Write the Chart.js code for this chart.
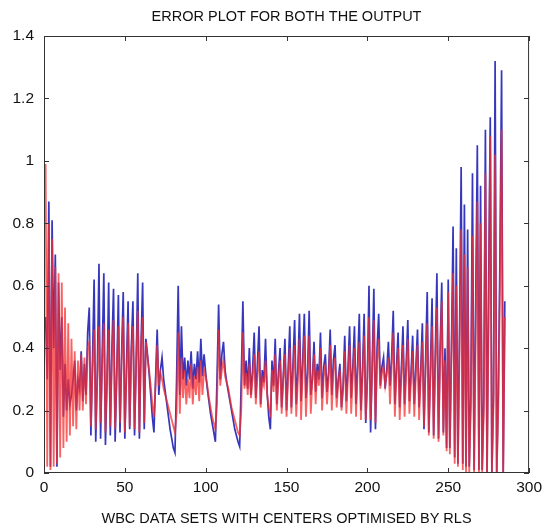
<!DOCTYPE html>
<html>
<head>
<meta charset="utf-8">
<script src="https://cdn.jsdelivr.net/npm/chart.js@4.4.1/dist/chart.umd.min.js"></script>
<style>
  html, body { margin: 0; padding: 0; background: #fff; }
  #wrap { width: 547px; height: 529px; }
</style>
</head>
<body>
<div id="wrap"><canvas id="myChart" width="547" height="529"></canvas></div>
<script>
const chartTitle = 'ERROR PLOT FOR BOTH THE OUTPUT';
const xAxisTitle = 'WBC DATA SETS WITH CENTERS OPTIMISED BY RLS';

const xTicks = [0, 50, 100, 150, 200, 250, 300];
const yTicks = [0, 0.2, 0.4, 0.6, 0.8, 1, 1.2, 1.4];

// error of output 1 (blue), one value per data set
const blueErr = [
  .50,.30,.87,.02,.81,.40,.70,.02,.61,.33,.50,.18,.35,.20,.30,.22,.25,.30,.36,.20,.30,.27,.39,.23,.35,.25,.45,
  .53,.12,.36,.62,.10,.33,.67,.11,.38,.64,.09,.30,.61,.12,.40,.59,.10,.32,.57,.13,.38,.58,.11,.34,.55,.14,.40,.55,.12,.35,.64,.11,.41,.61,.14,.43,
  .38,.32,.25,.18,.13,.30,.46,.25,.33,.37,.30,.26,.22,.18,.14,.11,.08,.065,.30,.60,.25,.47,.30,.37,.28,.36,.30,.39,.27,.35,.30,.39,.29,.43,.31,.38,.32,
  .27,.23,.19,.16,.13,.10,.30,.54,.30,.38,.42,.33,.29,.26,.23,.20,.17,.14,.12,.10,.085,.30,.55,.28,.36,.27,.40,.25,.33,.45,.24,.35,.47,.22,.33,.29,.43,.26,.18,.14,.36,.28,.43,
  .22,.32,.40,.21,.31,.43,.20,.33,.47,.21,.35,.49,.22,.33,.51,.23,.36,.51,.24,.32,.52,.25,.30,.42,.26,.35,.30,.45,.24,.34,.38,.26,.32,.46,.25,.36,.41,.24,.30,.35,.21,.28,.44,.23,.33,.47,.24,.34,.47,.22,.35,.51,.20,.33,.51,.16,.31,.60,.13,.35,.59,.14,.40,.51,
  .28,.34,.37,.27,.33,.42,.28,.37,.52,.22,.34,.45,.21,.33,.47,.22,.35,.49,.23,.32,.44,.22,.34,.46,.21,.33,.48,.14,.36,.58,.13,.34,.56,.12,.38,.64,.11,.40,.61,.13,.40,.08,
  .62,.08,.40,.79,.05,.72,.03,.45,.98,.03,.86,.02,.78,.02,.25,.96,.01,.55,1.05,.01,.92,.01,.24,1.10,.00,.60,1.14,.00,.25,1.32,.00,.26,.70,1.29,.00,.55
];

// error of output 2 (red)
const redErr = [
  .99,.02,.80,.01,.75,.02,.66,.03,.64,.05,.61,.08,.53,.10,.48,.12,.43,.15,.39,.14,.36,.20,.38,.20,.37,.22,.40,
  .42,.15,.33,.46,.14,.30,.47,.16,.35,.48,.13,.32,.46,.15,.37,.49,.14,.33,.47,.16,.36,.50,.13,.31,.48,.15,.38,.47,.14,.36,.52,.13,.40,.50,.16,.42,
  .37,.33,.28,.22,.18,.28,.41,.28,.32,.30,.27,.25,.23,.21,.19,.17,.15,.13,.19,.45,.19,.37,.24,.33,.22,.30,.24,.35,.22,.31,.25,.34,.23,.36,.25,.33,.31,
  .28,.24,.21,.18,.16,.14,.22,.46,.28,.33,.36,.31,.29,.27,.24,.21,.19,.17,.15,.13,.12,.20,.45,.27,.32,.25,.35,.24,.30,.38,.22,.31,.39,.21,.30,.28,.36,.25,.21,.19,.33,.26,.38,
  .20,.30,.36,.19,.30,.38,.18,.31,.40,.19,.32,.41,.18,.30,.43,.17,.33,.44,.18,.30,.44,.19,.30,.38,.22,.33,.28,.40,.20,.31,.35,.22,.30,.41,.20,.33,.37,.21,.29,.33,.20,.27,.39,.19,.31,.41,.19,.32,.40,.18,.33,.42,.17,.31,.44,.17,.30,.50,.17,.33,.49,.16,.36,.43,
  .27,.32,.34,.28,.32,.37,.22,.34,.45,.18,.32,.40,.17,.31,.41,.18,.32,.43,.19,.30,.39,.18,.32,.41,.17,.31,.42,.15,.33,.48,.12,.31,.47,.11,.35,.53,.10,.37,.55,.12,.36,.07,
  .58,.06,.38,.64,.03,.60,.02,.40,.78,.01,.70,.00,.66,.00,.22,.76,.00,.45,.87,.00,.80,.00,.20,.96,.00,.50,1.08,.00,.22,1.02,.00,.22,.60,1.10,.00,.50
];

const setNo = blueErr.map((v, i) => i + 1);
const toPoints = vals => vals.map((v, i) => ({ x: setNo[i], y: v }));

const tickFont = { family: '"Liberation Sans Narrow", "Liberation Sans", Arial, sans-serif', size: 15.5 };
const textFont = { family: '"Liberation Sans", Arial, sans-serif', size: 14.5 };

// matlab style box, inward ticks and title
const boxPlugin = {
  id: 'box',
  afterDraw(chart) {
    const { ctx, chartArea: a, scales } = chart;
    ctx.save();
    ctx.strokeStyle = '#333';
    ctx.lineWidth = 1;
    ctx.strokeRect(a.left + 0.5, a.top + 0.5, a.right - a.left - 1, a.bottom - a.top - 1);
    ctx.beginPath();
    xTicks.forEach(v => {
      const px = Math.round(scales.x.getPixelForValue(v)) + 0.5;
      ctx.moveTo(px, a.bottom); ctx.lineTo(px, a.bottom - 5);
      ctx.moveTo(px, a.top); ctx.lineTo(px, a.top + 5);
    });
    yTicks.forEach(v => {
      const py = Math.round(scales.y.getPixelForValue(v)) + 0.5;
      ctx.moveTo(a.left, py); ctx.lineTo(a.left + 5, py);
      ctx.moveTo(a.right, py); ctx.lineTo(a.right - 5, py);
    });
    ctx.stroke();
    ctx.fillStyle = '#111';
    ctx.font = textFont.size + 'px ' + textFont.family;
    ctx.textAlign = 'center';
    ctx.textBaseline = 'middle';
    ctx.fillText(chartTitle, (a.left + a.right) / 2, 17);
    ctx.restore();
  }
};

new Chart(document.getElementById('myChart').getContext('2d'), {
  type: 'line',
  data: {
    datasets: [
      {
        label: 'Output 1',
        data: toPoints(blueErr),
        borderColor: 'rgb(55,55,190)',
        borderWidth: 1.7,
        pointRadius: 0,
        tension: 0,
        order: 1
      },
      {
        label: 'Output 2',
        data: toPoints(redErr),
        borderColor: 'rgba(245,45,45,0.75)',
        borderWidth: 1.8,
        pointRadius: 0,
        tension: 0,
        order: 0
      }
    ]
  },
  options: {
    responsive: false,
    animation: false,
    layout: { padding: { top: 36, right: 13, left: 0, bottom: 0 } },
    plugins: { legend: { display: false }, tooltip: { enabled: false }, title: { display: false } },
    scales: {
      x: {
        type: 'linear',
        min: 0,
        max: 300,
        grid: { display: false, drawTicks: false },
        border: { display: false },
        afterBuildTicks: s => { s.ticks = xTicks.map(v => ({ value: v })); },
        afterFit: s => { s.height = 56; },
        ticks: { font: tickFont, color: '#111', padding: 5, maxRotation: 0, callback: v => String(v) },
        title: { display: true, text: xAxisTitle, font: textFont, color: '#111', padding: { top: 0, bottom: 1 } }
      },
      y: {
        min: 0,
        max: 1.4,
        grid: { display: false, drawTicks: false },
        border: { display: false },
        afterBuildTicks: s => { s.ticks = yTicks.map(v => ({ value: v })); },
        afterFit: s => { s.width = 44; },
        ticks: { font: tickFont, color: '#111', padding: 10, callback: v => String(v) }
      }
    }
  },
  plugins: [boxPlugin]
});
</script>
</body>
</html>
